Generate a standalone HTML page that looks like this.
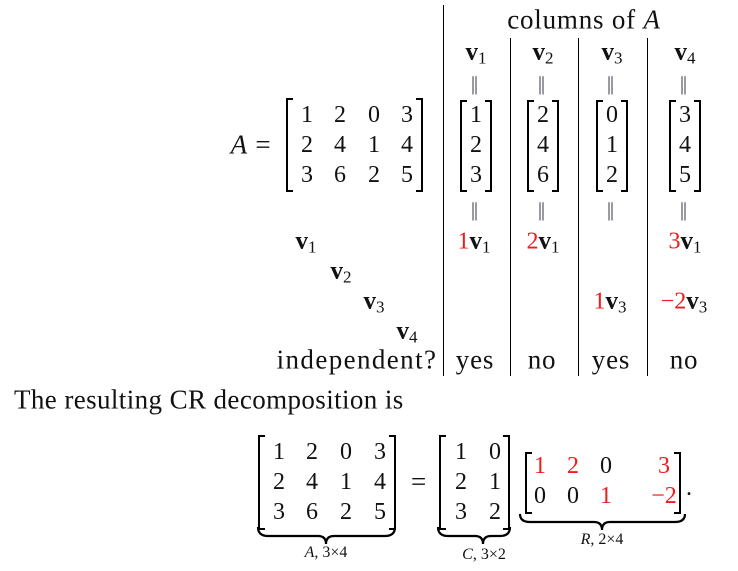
<!DOCTYPE html>
<html><head><meta charset="utf-8">
<style>
html,body{margin:0;padding:0;background:#fff;}
#fig{position:relative;width:738px;height:571px;overflow:hidden;font-family:"Liberation Serif",serif;color:#111;}
.t{position:absolute;transform:translate(-50%,-50%);white-space:nowrap;font-size:24px;line-height:1;}
.w{font-size:27px;letter-spacing:0.8px;}
.b{font-weight:bold;font-size:25px;}
sub{font-size:17px;vertical-align:-4px;font-weight:normal;}
.r{color:#ee1c1c;}
.eq{color:#334;font-size:20px;letter-spacing:-1px;}
.sm{font-size:16px;}
.vl{position:absolute;width:1px;background:#000;}
.br{position:absolute;border:2px solid #000;width:5px;}
.brl{border-right:none;}
.brr{border-left:none;}
</style></head>
<body>
<div id="fig">
<svg width="738" height="571" style="position:absolute;left:0;top:0">
<path d="M258 527 Q258 536 268 536 L318 536 Q326 536 326 544 Q326 536 334 536 L385 536 Q395 536 395 527" fill="none" stroke="#000" stroke-width="2.2"/>
<path d="M438 527 Q438 536 448 536 L475 536 Q483 536 483 544 Q483 536 491 536 L500 536 Q510 536 510 527" fill="none" stroke="#000" stroke-width="2.2"/>
<path d="M520 514 Q520 522 530 522 L594 522 Q602 522 602 530 Q602 522 610 522 L675 522 Q685 522 685 514" fill="none" stroke="#000" stroke-width="2.2"/>
</svg>
</div>
<script>
var fig=document.getElementById('fig');
function place(name,html,x,y,cls){
  var el=document.createElement('div');
  el.className='t '+(cls||'');
  el.innerHTML=html;
  el.style.left=x+'px';el.style.top=y+'px';
  
  
  fig.appendChild(el);
  return el;
}
function vline(name,x,y1,y2){
  var el=document.createElement('div');
  el.className='vl';
  el.style.left=x+'px';el.style.top=y1+'px';el.style.height=(y2-y1)+'px';
  
  
  fig.appendChild(el);
}
function bracket(name,x1,x2,y1,y2){
  var l=document.createElement('div');
  l.className='br brl';l.style.left=x1+'px';l.style.top=y1+'px';l.style.height=(y2-y1-4)+'px';
  
  
  fig.appendChild(l);
  var r=document.createElement('div');
  r.className='br brr';r.style.left=(x2-7)+'px';r.style.top=y1+'px';r.style.height=(y2-y1-4)+'px';
  
  
  fig.appendChild(r);
}
function v(n){return '<span class="b">v</span><sub>'+n+'</sub>';}
vline('main-divider',443,5,376);
vline('col-divider-1',510,38,376);
vline('col-divider-2',578,38,376);
vline('col-divider-3',647,38,376);
place('columns-header','columns of <i>A</i>',584,20,'w');
var colX=[476,543,612,685];
var cols=[['1','2','3'],['2','4','6'],['0','1','2'],['3','4','5']];
for(var i=0;i<4;i++){
  place('column-label-'+(i+1),v(i+1),colX[i],53);
  place('equals-top-'+(i+1),'||',colX[i]-2,84,'eq');
  bracket('column-bracket-'+(i+1),colX[i]-16,colX[i]+16,100,192);
  for(var j=0;j<3;j++) place('column-entry-'+(i+1)+'-'+(j+1),cols[i][j],colX[i],115+j*30);
  place('equals-bottom-'+(i+1),'||',colX[i]-2,210,'eq');
}
place('coef-v1-col1','<span class="r">1</span>'+v(1),474,242);
place('coef-v1-col2','<span class="r">2</span>'+v(1),543,242);
place('coef-v1-col4','<span class="r">3</span>'+v(1),685,242);
place('coef-v3-col3','<span class="r">1</span>'+v(3),610,302);
place('coef-v3-col4','<span class="r">\u22122</span>'+v(3),684,302);
var indep=['yes','no','yes','no'];
for(var i=0;i<4;i++) place('independent-'+(i+1),indep[i],colX[i]-1,360,'w');
place('a-label','<i>A</i> =',251,145,'w');
bracket('matrix-a',286,423,98,192);
var Ax=[307,340,374,407];
var A=[['1','2','0','3'],['2','4','1','4'],['3','6','2','5']];
for(var r=0;r<3;r++)for(var c=0;c<4;c++) place('a-entry-'+r+'-'+c,A[r][c],Ax[c],115+r*30);
var lx=[306,341,374,407];
for(var i=0;i<4;i++) place('row-label-v'+(i+1),v(i+1),lx[i],242+i*30);
place('independent-label','independent?',357,360,'w').style.letterSpacing='1.4px';
var s=place('sentence','The resulting CR decomposition is',14,400,'');
s.style.fontSize='27px';s.style.letterSpacing='0.4px';s.style.transform='translate(0,-50%)';
bracket('bottom-a',258,396,435,530);
var bAx=[279,312,346,380];
for(var r=0;r<3;r++)for(var c=0;c<4;c++) place('bottom-a-'+r+'-'+c,A[r][c],bAx[c],452+r*30);
place('bottom-equals','=',419,482,'w');
bracket('bottom-c',439,510,435,530);
var C=[['1','0'],['2','1'],['3','2']];
var cX=[461,495];
for(var r=0;r<3;r++)for(var c=0;c<2;c++) place('bottom-c-'+r+'-'+c,C[r][c],cX[c],452+r*30);
bracket('bottom-r',525,681,452,514);
var R=[['1','2','0','3'],['0','0','1','\u22122']];
var Rred=[[1,1,0,1],[0,0,1,1]];
var rX=[540,573,606,664];
for(var r=0;r<2;r++)for(var c=0;c<4;c++) place('bottom-r-'+r+'-'+c,R[r][c],rX[c],466+r*30,Rred[r][c]?'r':'');
place('period','.',689,488);
place('brace-a-label','<i>A</i>, 3\u00d74',326,553,'sm');
place('brace-c-label','<i>C</i>, 3\u00d72',484,555,'sm');
place('brace-r-label','<i>R</i>, 2\u00d74',602,540,'sm');
</script>
</body></html>
